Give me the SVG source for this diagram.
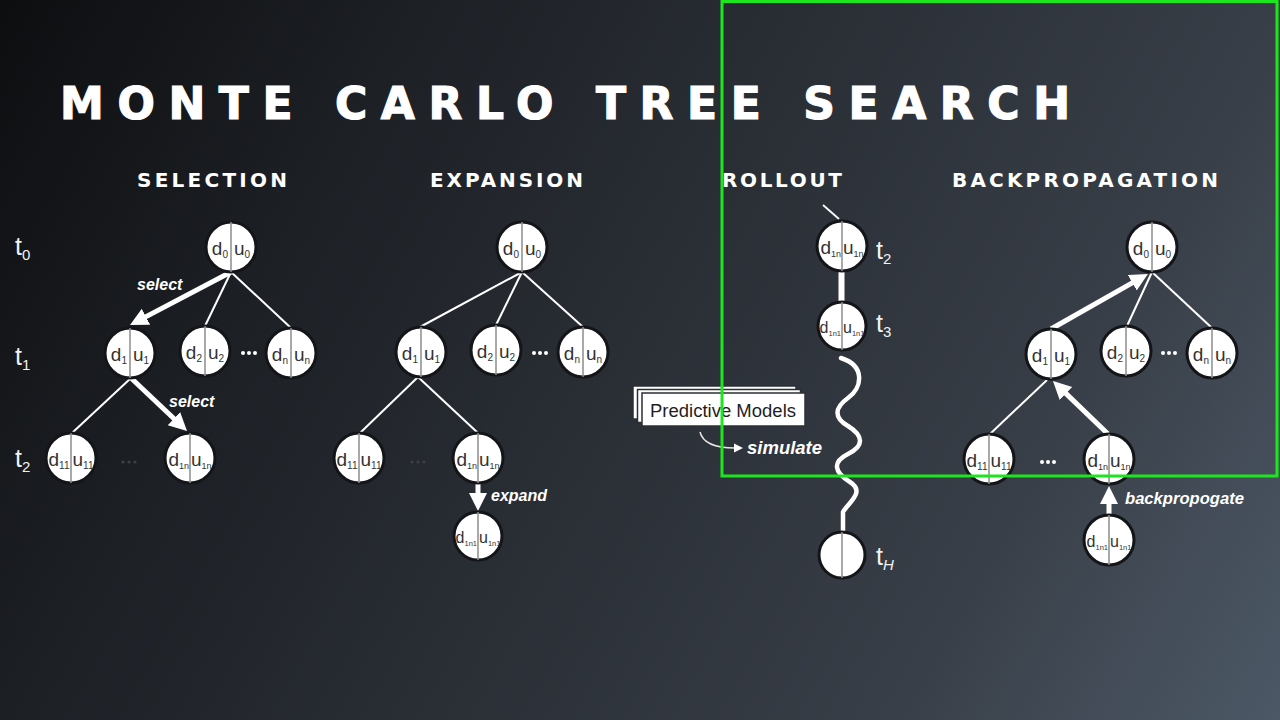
<svg xmlns="http://www.w3.org/2000/svg" width="1280" height="720" viewBox="0 0 1280 720">
<defs>
<linearGradient id="bg" gradientUnits="userSpaceOnUse" x1="0" y1="0" x2="1280" y2="720">
<stop offset="0" stop-color="#0d0e10"/>
<stop offset="0.24" stop-color="#1c1f24"/>
<stop offset="0.5" stop-color="#2a2f36"/>
<stop offset="0.76" stop-color="#383e47"/>
<stop offset="1" stop-color="#4c5866"/>
</linearGradient>
<marker id="ah" markerUnits="userSpaceOnUse" markerWidth="20" markerHeight="20" viewBox="0 -10 20 20" refX="2" refY="0" orient="auto">
<path d="M0,-9 L18,0 L0,9 z" fill="#fff"/>
</marker>
<marker id="ahs" markerUnits="userSpaceOnUse" markerWidth="10" markerHeight="10" viewBox="0 -5 10 10" refX="1" refY="0" orient="auto">
<path d="M0,-4.5 L9,0 L0,4.5 z" fill="#fff"/>
</marker>
<style>
.f{font-family:"Liberation Sans",Arial,Helvetica,sans-serif}
.title{font-family:"DejaVu Sans","Liberation Sans",sans-serif;font-size:44px;font-weight:bold;fill:#fff;stroke:#fff;stroke-width:1.2}
.hd{font-family:"DejaVu Sans","Liberation Sans",sans-serif;font-size:20px;font-weight:bold;fill:#fff}
.nc{fill:#fff;stroke:#141518;stroke-width:3}
.nd{stroke:#8c8c8c;stroke-width:1.5}
.nt{font-size:19px;fill:#333}
.nt2{font-size:16px;fill:#333}
.sb{font-size:10px}
.sb9{font-size:9px}
.sb8{font-size:7.5px}
.tl{font-size:25px;fill:#f2f2f2}
.ts{font-size:15px}
.lab{font-size:16px;font-weight:bold;font-style:italic;fill:#fff}
.thin{stroke:#fff;stroke-width:2;fill:none}
.thick{stroke:#fff;stroke-width:5;fill:none;marker-end:url(#ah)}
.dot{fill:#fff}
.fdot{fill:#3c4047}
.pm{fill:#fff;stroke:#2b2f36;stroke-width:1.5}
</style>
</defs>
<rect x="0" y="0" width="1280" height="720" fill="url(#bg)"/>

<g id="titles">
<text class="title" x="60" y="119" textLength="1010" lengthAdjust="spacing">MONTE CARLO TREE SEARCH</text>
<text class="hd" x="137" y="187" textLength="150" lengthAdjust="spacing">SELECTION</text>
<text class="hd" x="430" y="187" textLength="153" lengthAdjust="spacing">EXPANSION</text>
<text class="hd" x="722" y="187" textLength="120" lengthAdjust="spacing">ROLLOUT</text>
<text class="hd" x="952" y="187" textLength="266" lengthAdjust="spacing">BACKPROPAGATION</text>
</g>

<g id="time-labels" class="f">
<text class="tl" x="15" y="255">t<tspan class="ts" dy="5">0</tspan></text>
<text class="tl" x="15" y="365">t<tspan class="ts" dy="5">1</tspan></text>
<text class="tl" x="15" y="467">t<tspan class="ts" dy="5">2</tspan></text>
<text class="tl" x="876" y="259">t<tspan class="ts" dy="5">2</tspan></text>
<text class="tl" x="876" y="332">t<tspan class="ts" dy="5">3</tspan></text>
<text class="tl" x="876" y="565">t<tspan class="ts" dy="5" font-style="italic">H</tspan></text>
</g>

<g id="connectors">
<line class="thin" x1="231" y1="272" x2="205" y2="326"/>
<line class="thin" x1="231" y1="272" x2="291" y2="328"/>
<line class="thin" x1="131" y1="378" x2="72" y2="433"/>
<line class="thick" x1="231" y1="272" x2="144.2" y2="317.6"/>
<line class="thick" x1="131" y1="378" x2="175.4" y2="420"/>
<line class="thin" x1="522" y1="272" x2="420" y2="327"/>
<line class="thin" x1="522" y1="272" x2="496" y2="325"/>
<line class="thin" x1="522" y1="272" x2="583" y2="327"/>
<line class="thin" x1="418" y1="377" x2="360" y2="433"/>
<line class="thin" x1="418" y1="377" x2="478" y2="433"/>
<line class="thick" x1="478" y1="484" x2="478" y2="495"/>
<line x1="823" y1="205" x2="839" y2="219" stroke="#fff" stroke-width="1.8"/>
<rect x="838.5" y="271" width="6" height="30" fill="#fff"/>
<path d="M841,358 C866,366 862,388 848,398 C834,408 834,418 848,426 C864,436 864,446 848,454 C832,462 834,472 850,482 C866,492 848,503 843,512 L843,533" fill="none" stroke="#fff" stroke-width="4.5" stroke-linecap="round"/>
<path d="M700,432 Q704,448 735,448" fill="none" stroke="#e6e6e6" stroke-width="1.5" marker-end="url(#ahs)"/>
<line class="thin" x1="1152" y1="272" x2="1127" y2="326"/>
<line class="thin" x1="1152" y1="272" x2="1212" y2="328"/>
<line class="thin" x1="1047" y1="380" x2="990" y2="434"/>
<line class="thick" x1="1051" y1="329" x2="1134" y2="281.8"/>
<line class="thick" x1="1108" y1="434" x2="1064.5" y2="392.1"/>
<line class="thick" x1="1109" y1="515" x2="1109" y2="502"/>
</g>

<g id="labels" class="f">
<text class="lab" x="137" y="290">select</text>
<text class="lab" x="169" y="407">select</text>
<text class="lab" x="491" y="501">expand</text>
<text class="lab" x="1125" y="504" textLength="119" lengthAdjust="spacingAndGlyphs">backpropogate</text>
<text class="lab" x="747" y="454" style="font-size:18.5px">simulate</text>
</g>

<g id="dots">
<circle class="dot" cx="243" cy="353" r="2"/><circle class="dot" cx="249" cy="353" r="2"/><circle class="dot" cx="255" cy="353" r="2"/>
<circle class="dot" cx="534" cy="353" r="2"/><circle class="dot" cx="540" cy="353" r="2"/><circle class="dot" cx="546" cy="353" r="2"/>
<circle class="dot" cx="1163" cy="353" r="2"/><circle class="dot" cx="1169" cy="353" r="2"/><circle class="dot" cx="1175" cy="353" r="2"/>
<circle class="dot" cx="1042" cy="462" r="2"/><circle class="dot" cx="1048" cy="462" r="2"/><circle class="dot" cx="1054" cy="462" r="2"/>
<circle class="fdot" cx="123" cy="462" r="1.6"/><circle class="fdot" cx="129" cy="462" r="1.6"/><circle class="fdot" cx="135" cy="462" r="1.6"/>
<circle class="fdot" cx="412" cy="462" r="1.6"/><circle class="fdot" cx="418" cy="462" r="1.6"/><circle class="fdot" cx="424" cy="462" r="1.6"/>
</g>

<g id="predictive-models" class="f">
<rect class="pm" x="633" y="386" width="163" height="33"/>
<rect class="pm" x="637.5" y="389.5" width="163" height="33"/>
<rect class="pm" x="642" y="393" width="163" height="33"/>
<text x="650" y="417" font-size="17.5" fill="#1e1e1e" textLength="146" lengthAdjust="spacingAndGlyphs">Predictive Models</text>
</g>

<g id="s-root" class="f"><circle class="nc" cx="231" cy="247" r="25"/><line class="nd" x1="231" y1="222" x2="231" y2="272"/><text class="nt" x="228" y="255" text-anchor="end">d<tspan class="sb" dy="3">0</tspan></text><text class="nt" x="234" y="255">u<tspan class="sb" dy="3">0</tspan></text></g>
<g id="s-1" class="f"><circle class="nc" cx="130" cy="353" r="25"/><line class="nd" x1="130" y1="328" x2="130" y2="378"/><text class="nt" x="127" y="361" text-anchor="end">d<tspan class="sb" dy="3">1</tspan></text><text class="nt" x="133" y="361">u<tspan class="sb" dy="3">1</tspan></text></g>
<g id="s-2" class="f"><circle class="nc" cx="205" cy="351" r="25"/><line class="nd" x1="205" y1="326" x2="205" y2="376"/><text class="nt" x="202" y="359" text-anchor="end">d<tspan class="sb" dy="3">2</tspan></text><text class="nt" x="208" y="359">u<tspan class="sb" dy="3">2</tspan></text></g>
<g id="s-n" class="f"><circle class="nc" cx="291" cy="353" r="25"/><line class="nd" x1="291" y1="328" x2="291" y2="378"/><text class="nt" x="288" y="361" text-anchor="end">d<tspan class="sb" dy="3">n</tspan></text><text class="nt" x="294" y="361">u<tspan class="sb" dy="3">n</tspan></text></g>
<g id="s-11" class="f"><circle class="nc" cx="71" cy="458" r="25"/><line class="nd" x1="71" y1="433" x2="71" y2="483"/><text class="nt" x="69.5" y="466" text-anchor="end">d<tspan class="sb" dy="3">11</tspan></text><text class="nt" x="72.5" y="466">u<tspan class="sb" dy="3">11</tspan></text></g>
<g id="s-1n" class="f"><circle class="nc" cx="190" cy="458" r="25"/><line class="nd" x1="190" y1="433" x2="190" y2="483"/><text class="nt" x="189" y="466" text-anchor="end">d<tspan class="sb9" dy="3">1n</tspan></text><text class="nt" x="191" y="466">u<tspan class="sb9" dy="3">1n</tspan></text></g>

<g id="e-root" class="f"><circle class="nc" cx="522" cy="247" r="25"/><line class="nd" x1="522" y1="222" x2="522" y2="272"/><text class="nt" x="519" y="255" text-anchor="end">d<tspan class="sb" dy="3">0</tspan></text><text class="nt" x="525" y="255">u<tspan class="sb" dy="3">0</tspan></text></g>
<g id="e-1" class="f"><circle class="nc" cx="421" cy="352" r="25"/><line class="nd" x1="421" y1="327" x2="421" y2="377"/><text class="nt" x="418" y="360" text-anchor="end">d<tspan class="sb" dy="3">1</tspan></text><text class="nt" x="424" y="360">u<tspan class="sb" dy="3">1</tspan></text></g>
<g id="e-2" class="f"><circle class="nc" cx="496" cy="350" r="25"/><line class="nd" x1="496" y1="325" x2="496" y2="375"/><text class="nt" x="493" y="358" text-anchor="end">d<tspan class="sb" dy="3">2</tspan></text><text class="nt" x="499" y="358">u<tspan class="sb" dy="3">2</tspan></text></g>
<g id="e-n" class="f"><circle class="nc" cx="583" cy="352" r="25"/><line class="nd" x1="583" y1="327" x2="583" y2="377"/><text class="nt" x="580" y="360" text-anchor="end">d<tspan class="sb" dy="3">n</tspan></text><text class="nt" x="586" y="360">u<tspan class="sb" dy="3">n</tspan></text></g>
<g id="e-11" class="f"><circle class="nc" cx="359" cy="458" r="25"/><line class="nd" x1="359" y1="433" x2="359" y2="483"/><text class="nt" x="357.5" y="466" text-anchor="end">d<tspan class="sb" dy="3">11</tspan></text><text class="nt" x="360.5" y="466">u<tspan class="sb" dy="3">11</tspan></text></g>
<g id="e-1n" class="f"><circle class="nc" cx="478" cy="458" r="25"/><line class="nd" x1="478" y1="433" x2="478" y2="483"/><text class="nt" x="477" y="466" text-anchor="end">d<tspan class="sb9" dy="3">1n</tspan></text><text class="nt" x="479" y="466">u<tspan class="sb9" dy="3">1n</tspan></text></g>
<g id="e-1n1" class="f"><circle class="nc" cx="478" cy="536" r="24"/><line class="nd" x1="478" y1="512" x2="478" y2="560"/><text class="nt2" x="477" y="543" text-anchor="end">d<tspan class="sb8" dy="3">1n1</tspan></text><text class="nt2" x="479" y="543">u<tspan class="sb8" dy="3">1n1</tspan></text></g>

<g id="r-1n" class="f"><circle class="nc" cx="842" cy="246" r="25"/><line class="nd" x1="842" y1="221" x2="842" y2="271"/><text class="nt" x="841" y="254" text-anchor="end">d<tspan class="sb9" dy="3">1n</tspan></text><text class="nt" x="843" y="254">u<tspan class="sb9" dy="3">1n</tspan></text></g>
<g id="r-1n1" class="f"><circle class="nc" cx="842" cy="326" r="24"/><line class="nd" x1="842" y1="302" x2="842" y2="350"/><text class="nt2" x="841" y="333" text-anchor="end">d<tspan class="sb8" dy="3">1n1</tspan></text><text class="nt2" x="843" y="333">u<tspan class="sb8" dy="3">1n1</tspan></text></g>
<g id="r-H"><circle class="nc" cx="842" cy="555" r="23"/><line class="nd" x1="842" y1="532" x2="842" y2="578"/></g>

<g id="b-root" class="f"><circle class="nc" cx="1152" cy="247" r="25"/><line class="nd" x1="1152" y1="222" x2="1152" y2="272"/><text class="nt" x="1149" y="255" text-anchor="end">d<tspan class="sb" dy="3">0</tspan></text><text class="nt" x="1155" y="255">u<tspan class="sb" dy="3">0</tspan></text></g>
<g id="b-1" class="f"><circle class="nc" cx="1051" cy="354" r="25"/><line class="nd" x1="1051" y1="329" x2="1051" y2="379"/><text class="nt" x="1048" y="362" text-anchor="end">d<tspan class="sb" dy="3">1</tspan></text><text class="nt" x="1054" y="362">u<tspan class="sb" dy="3">1</tspan></text></g>
<g id="b-2" class="f"><circle class="nc" cx="1126" cy="351" r="25"/><line class="nd" x1="1126" y1="326" x2="1126" y2="376"/><text class="nt" x="1123" y="359" text-anchor="end">d<tspan class="sb" dy="3">2</tspan></text><text class="nt" x="1129" y="359">u<tspan class="sb" dy="3">2</tspan></text></g>
<g id="b-n" class="f"><circle class="nc" cx="1212" cy="353" r="25"/><line class="nd" x1="1212" y1="328" x2="1212" y2="378"/><text class="nt" x="1209" y="361" text-anchor="end">d<tspan class="sb" dy="3">n</tspan></text><text class="nt" x="1215" y="361">u<tspan class="sb" dy="3">n</tspan></text></g>
<g id="b-11" class="f"><circle class="nc" cx="989" cy="459" r="25"/><line class="nd" x1="989" y1="434" x2="989" y2="484"/><text class="nt" x="987.5" y="467" text-anchor="end">d<tspan class="sb" dy="3">11</tspan></text><text class="nt" x="990.5" y="467">u<tspan class="sb" dy="3">11</tspan></text></g>
<g id="b-1n" class="f"><circle class="nc" cx="1109" cy="459" r="25"/><line class="nd" x1="1109" y1="434" x2="1109" y2="484"/><text class="nt" x="1108" y="467" text-anchor="end">d<tspan class="sb9" dy="3">1n</tspan></text><text class="nt" x="1110" y="467">u<tspan class="sb9" dy="3">1n</tspan></text></g>
<g id="b-1n1" class="f"><circle class="nc" cx="1109" cy="540" r="25"/><line class="nd" x1="1109" y1="515" x2="1109" y2="565"/><text class="nt2" x="1108" y="547" text-anchor="end">d<tspan class="sb8" dy="3">1n1</tspan></text><text class="nt2" x="1110" y="547">u<tspan class="sb8" dy="3">1n1</tspan></text></g>

<rect id="highlight-frame" x="722" y="1.5" width="555" height="474.5" fill="none" stroke="#1ee61e" stroke-width="3"/>
</svg>
